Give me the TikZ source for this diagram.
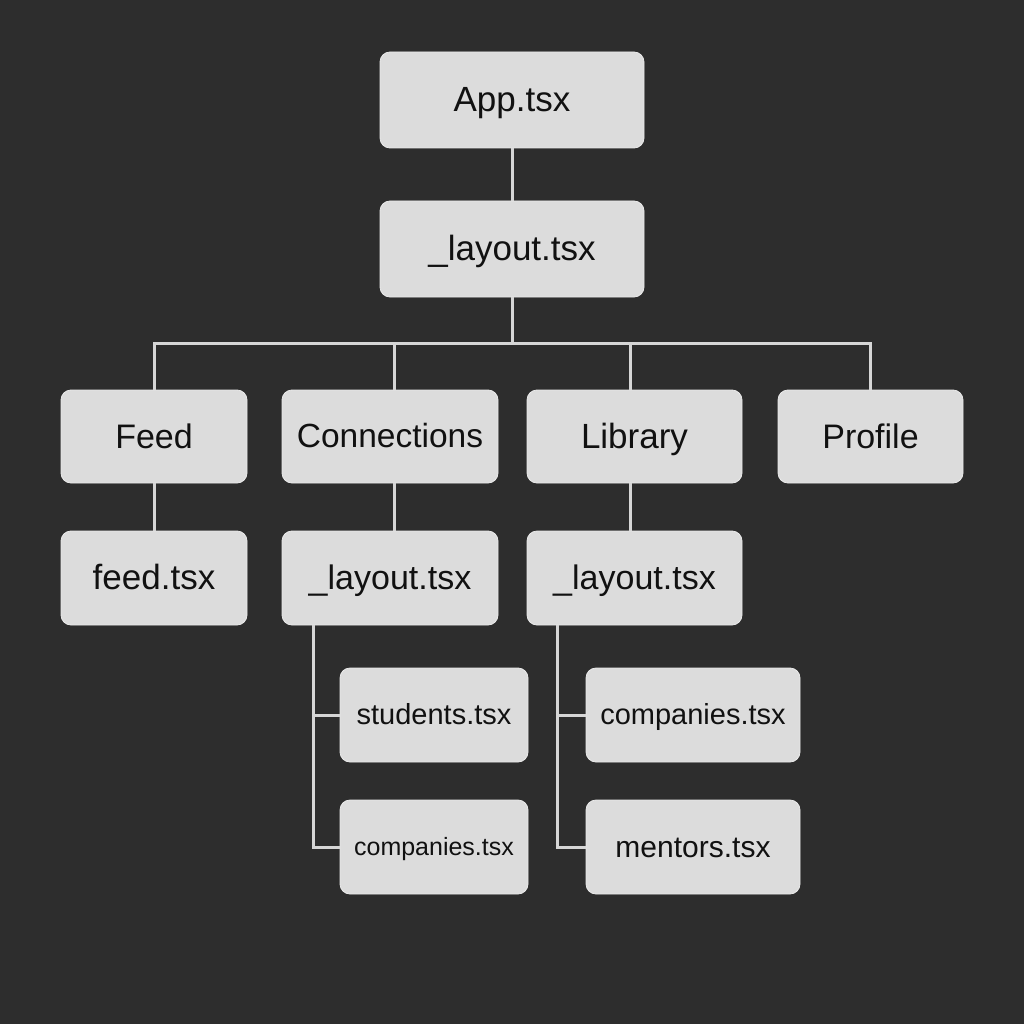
\documentclass[tikz,border=0pt]{standalone}
\usepackage{fontspec}
\setmainfont{Liberation Sans}
\definecolor{bg}{HTML}{2D2D2D}
\definecolor{boxfill}{HTML}{DCDCDC}
\definecolor{boxedge}{HTML}{EAEAEA}
\definecolor{linec}{HTML}{D6D6D6}
\definecolor{txt}{HTML}{111111}
\begin{document}
\begin{tikzpicture}[x=1pt,y=-1pt,
  box/.style={draw=boxedge,line width=0.8pt,fill=boxfill,rounded corners=10pt,
    text=txt,inner sep=0pt,anchor=center,execute at begin node=\rule[-0.21em]{0pt}{1.1em}},
  conn/.style={draw=linec,line width=3pt}]
\fill[bg] (0,0) rectangle (1024,1024);
\useasboundingbox (0,0) rectangle (1024,1024);
% level 0/1
\node[box,minimum width=264pt,minimum height=96pt,font=\fontsize{35}{40}\selectfont] (app) at (512,100) {App.tsx};
\node[box,minimum width=264pt,minimum height=96pt,font=\fontsize{35}{40}\selectfont] (lay) at (512,249) {\_layout.tsx};
% level 2
\node[box,minimum width=186pt,minimum height=93pt,font=\fontsize{34}{40}\selectfont] (feed) at (154,436.5) {Feed};
\node[box,minimum width=216pt,minimum height=93pt,font=\fontsize{33.5}{40}\selectfont] (connx) at (390,436.5) {Connections};
\node[box,minimum width=215pt,minimum height=93pt,font=\fontsize{35}{40}\selectfont] (lib) at (634.5,436.5) {Library};
\node[box,minimum width=185pt,minimum height=93pt,font=\fontsize{34}{40}\selectfont] (prof) at (870.5,436.5) {Profile};
% level 3
\node[box,minimum width=186pt,minimum height=94pt,font=\fontsize{35}{40}\selectfont] (feedf) at (154,578) {feed.tsx};
\node[box,minimum width=216pt,minimum height=94pt,font=\fontsize{34}{40}\selectfont] (clay) at (390,578) {\_layout.tsx};
\node[box,minimum width=215pt,minimum height=94pt,font=\fontsize{34}{40}\selectfont] (llay) at (634.5,578) {\_layout.tsx};
% level 4
\node[box,minimum width=188pt,minimum height=94pt,font=\fontsize{29}{34}\selectfont] (stud) at (434,715) {students.tsx};
\node[box,minimum width=188pt,minimum height=94pt,font=\fontsize{25}{30}\selectfont] (ccomp) at (434,847) {companies.tsx};
\node[box,minimum width=214pt,minimum height=94pt,font=\fontsize{29}{34}\selectfont] (lcomp) at (693,715) {companies.tsx};
\node[box,minimum width=214pt,minimum height=94pt,font=\fontsize{30}{34}\selectfont] (ment) at (693,847) {mentors.tsx};
% connectors
\coordinate (bus) at (512,343);
\draw[conn] (app.south) -- (lay.north);
\draw[conn] (lay.south) -- (bus);
\draw[conn] (feed.north) |- (bus) -| (prof.north);
\draw[conn] ([xshift=4pt]connx.north) -- ([xshift=4pt]connx.north |- bus);
\draw[conn] ([xshift=-4pt]lib.north) -- ([xshift=-4pt]lib.north |- bus);
\draw[conn] (feed.south) -- (feedf.north);
\draw[conn] ([xshift=4pt]connx.south) -- ([xshift=4pt]clay.north);
\draw[conn] ([xshift=-4pt]lib.south) -- ([xshift=-4pt]llay.north);
\draw[conn] ([xshift=32pt]clay.south west) |- (ccomp.west);
\draw[conn] ([xshift=32pt]clay.south west |- stud.west) -- (stud.west);
\draw[conn] ([xshift=31pt]llay.south west) |- (ment.west);
\draw[conn] ([xshift=31pt]llay.south west |- lcomp.west) -- (lcomp.west);
\end{tikzpicture}
\end{document}
